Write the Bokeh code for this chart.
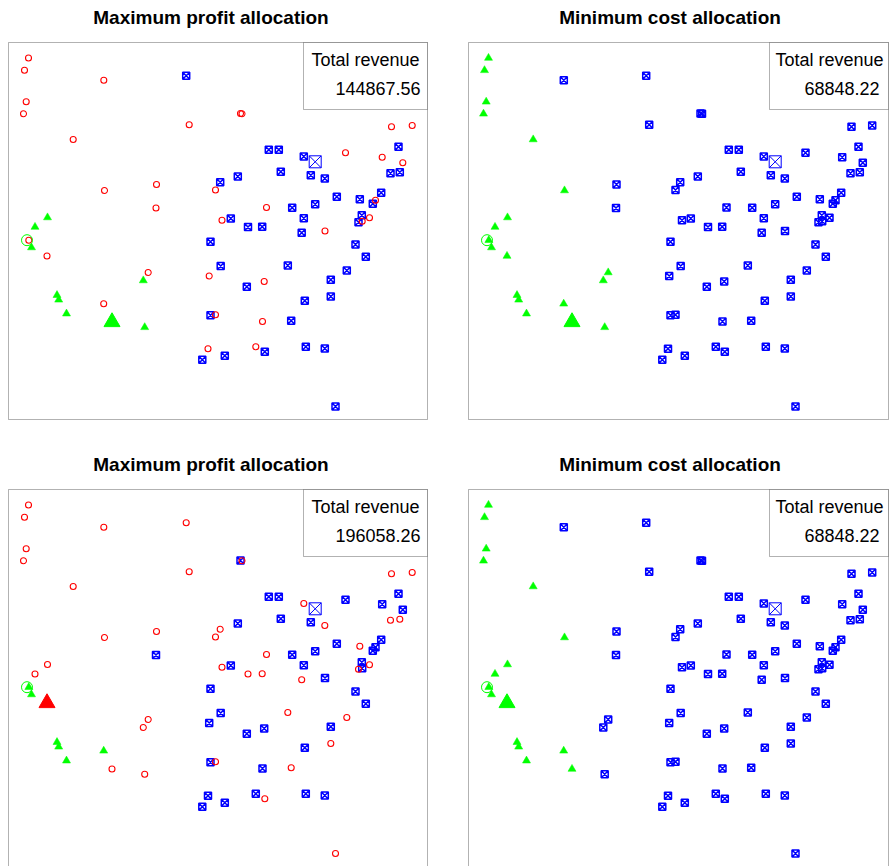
from bokeh.plotting import figure
from bokeh.layouts import gridplot
from bokeh.models import Range1d, Label, BoxAnnotation, ColumnDataSource
from bokeh.embed import file_html
from bokeh.resources import INLINE

# customer locations (plot units)
xs = [20, 16, 95.3, 177.7, 17.7, 15, 180.7, 64.7, 148, 211.7,
      96, 207, 147.5, 39, 26.5, 213.5, 232, 233.5, 383, 403.7,
      260.3, 270.3, 337, 295.3, 373.7, 390, 394.3, 272.3, 302.3, 316.3,
      382, 391.3, 229.3, 328.3, 351.3, 372.7, 367, 364.3, 258, 283.7,
      306.7, 222.3, 295.3, 353.3, 361, 350, 353.7, 239.5, 253.7, 316.5,
      293.2, 347, 357.3, 212.2, 279.3, 338.3, 255.7, 322.3, 238.3, 296.3,
      322.3, 207, 254, 282.7, 247.3, 256.3, 297.3, 316.3, 216.3, 327,
      20.3, 23, 38.5, 202, 139.7, 134.8, 200.7, 48.5, 50.2, 95.2,
      202, 58, 103.5, 136.2, 199.5, 193.8]
ys = [361.5, 349.2, 339.3, 343.7, 317.7, 305.7, 294.7, 280, 235, 237.2,
      229, 229.5, 211.5, 202, 192.5, 199.3, 306, 305.7, 292.7, 294,
      269.7, 269.7, 266.7, 263, 262.3, 272.7, 256.7, 247.7, 244.3, 241,
      246.3, 247.3, 243, 222.7, 220.3, 226.7, 219.3, 215.7, 212, 211.7,
      215.3, 201, 201.3, 204.3, 201.7, 197.3, 198.3, 192.5, 192.7, 188.5,
      186.7, 175, 162.7, 153.5, 154, 149, 138, 139.7, 132.7, 118.7,
      123, 104.8, 98, 98.7, 72.7, 67.7, 72.7, 71, 63.7, 13,
      179.3, 172, 163.5, 177.7, 147, 139, 143.5, 124.3, 119.7, 115.7,
      104.3, 105.8, 97.5, 92.2, 70.7, 59.8]

# R = not served, G = triangle facility, B = boxed-X facility, - = facility site
status_p1 = list("RRRBRRRRRB" "RRRGGRRRRR" "BBRBRBRBBB" "BBBBBBRBRB" "BBBBRBRBBR"
                 "BBBBBBRBBB" "BRRBRBBBBB" "RGRBRGRGGR" "BG-GRB")
status_p2 = list("GGBBGGBGBB" "GBBGGBBBBB" "BBBBBBBBBB" "BBBBBBBBBB" "BBBBBBBBBB"
                 "BBBBBBBBBB" "BBBBBBBBBB" "GGGBGGBGGG" "BG-GBB")
status_p3 = list("RRRRRRRRRR" "RRBRRRBRRR" "BBBRBBBBBR" "RRBBRBBBRB" "BBBBRRBRRB"
                 "RBBBRRBBBB" "RRBRBRBBBR" "GG-BRRBGGG" "BGRRBB")
status_p4 = list("GGBBGGBGBB" "GBBGGBBBBB" "BBBBBBBBBB" "BBBBBBBBBB" "BBBBBBBBBB"
                 "BBBBBBBBBB" "BBBBBBBBBB" "GG-BBBBGGG" "BGGBBB")

titles = ["Maximum profit allocation", "Minimum cost allocation",
          "Maximum profit allocation", "Minimum cost allocation"]
revenues = ["144867.56", "68848.22", "196058.26", "68848.22"]
tri_site = [82, 82, 72, 72]          # index of site holding the triangle facility
tri_color = ["#00ff00", "#00ff00", "#ff0000", "#00ff00"]
x_fac = [306.7]
y_fac = [257.7]
x_ring = [18.5]
y_ring = [179.3]

RED, GREEN, BLUE = "#ff0000", "#00ff00", "#0000ff"
FONT = "Liberation Sans"
X_MAX, Y_MAX = 419, 377   # plotting region extent (plot units)


def panel(k, status, right_col, bottom_row):
    box_w = 420 if right_col else 419
    if right_col:
        fig_w, xr = 424, Range1d(-1, 423)
    else:
        fig_w, xr = 467, Range1d(-8, 459)
    if bottom_row:
        fig_h, yr = 411, Range1d(0, 411)
    else:
        fig_h, yr = 455, Range1d(-36, 419)
    p = figure(title=None, frame_width=fig_w, frame_height=fig_h,
               x_range=xr, y_range=yr,
               x_axis_type=None, y_axis_type=None,
               output_backend="svg", toolbar_location=None,
               min_border_left=0, min_border_right=0,
               min_border_top=0, min_border_bottom=0,
               background_fill_color="white", border_fill_color="white")
    p.outline_line_color = None

    # plot region border
    p.add_layout(BoxAnnotation(left=0, right=box_w, top=Y_MAX,
                               bottom=0 if not bottom_row else -5,
                               fill_color=None, line_color="black", line_width=1,
                               level="underlay"))

    def pick(code):
        idx = [i for i, s in enumerate(status) if s == code]
        return ColumnDataSource(dict(x=[xs[i] for i in idx], y=[ys[i] for i in idx]))

    p.scatter("x", "y", source=pick("B"), marker="square_x", size=7,
              line_color=BLUE, fill_color=None, line_width=1.5)
    p.scatter("x", "y", source=pick("G"), marker="triangle", size=8,
              line_color=GREEN, fill_color=GREEN, line_width=0.5)
    p.scatter("x", "y", source=pick("R"), marker="circle", size=6,
              line_color=RED, fill_color=None, line_width=1.1)
    p.scatter(x_ring, y_ring, marker="circle", size=11, line_color=GREEN,
              fill_color=None, line_width=1)
    p.scatter(x_fac, y_fac, marker="square_x", size=12, line_color=BLUE,
              fill_color=None, line_width=1)
    s = tri_site[k]
    p.scatter([xs[s]], [ys[s]], marker="triangle", size=16,
              line_color=tri_color[k], fill_color=tri_color[k])

    p.add_layout(Label(x=(201.5 if right_col else 202.5), y=Y_MAX + 25, text=titles[k],
                       text_font=FONT, text_font_size="19px", text_font_style="bold",
                       text_align="center", text_baseline="middle", text_color="black"))

    bw = 119 if right_col else 124
    p.add_layout(BoxAnnotation(left=box_w - bw, right=box_w, top=Y_MAX,
                               bottom=310, fill_color="white", fill_alpha=1,
                               line_color="black", line_width=1, level="annotation"))
    p.add_layout(Label(x=box_w - bw + (6 if right_col else 8), y=359.5, text="Total revenue",
                       text_font=FONT, text_font_size="18px", text_align="left",
                       text_baseline="middle", text_color="black"))
    p.add_layout(Label(x=box_w - (9 if right_col else 7), y=331.5, text=revenues[k],
                       text_font=FONT, text_font_size="18px", text_align="right",
                       text_baseline="middle", text_color="black"))
    return p


p1 = panel(0, status_p1, False, False)
p2 = panel(1, status_p2, True, False)
p3 = panel(2, status_p3, False, True)
p4 = panel(3, status_p4, True, True)

grid = gridplot([[p1, p2], [p3, p4]], toolbar_location=None)
open("out.html", "w").write(file_html(grid, INLINE))
